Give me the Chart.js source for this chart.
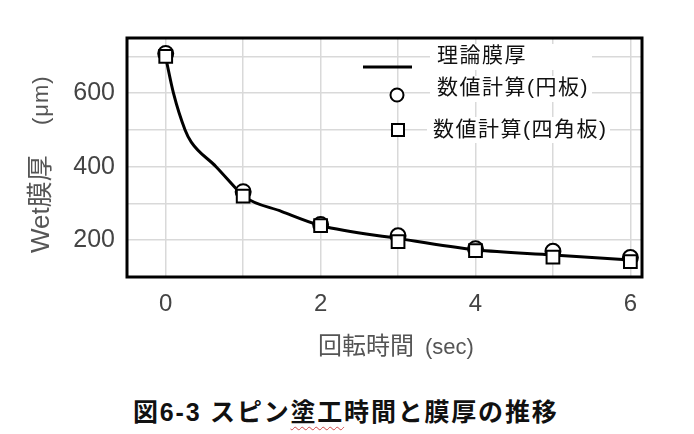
<!DOCTYPE html>
<html>
<head>
<meta charset="utf-8">
<script src="https://cdn.jsdelivr.net/npm/chart.js@4/dist/chart.umd.min.js"></script>
<style>
  body { margin: 0; background: #fff; }
  #wrap { position: relative; width: 694px; height: 434px; }
  #caption {
    position: absolute; left: 133px; top: 392px; white-space: nowrap; color: #111;
    font: bold 25px "Liberation Sans", "Noto Sans CJK JP", sans-serif; letter-spacing: 1.8px;
  }
  .typo { text-decoration: underline wavy #d04848; text-decoration-thickness: 1px; text-underline-offset: 5px; }
</style>
</head>
<body>
<div id="wrap">
  <canvas id="myChart" width="694" height="370"></canvas>
  <div id="caption">図6-3 スピン<span class="typo">塗工</span>時間と膜厚の推移</div>
</div>
<script>
// values
const theoryTime = [0, 0.1, 0.25, 0.33, 0.65, 0.91, 1, 1.5, 2, 3, 4, 5, 6];
const theoryFilm = [697, 600, 500, 467, 400, 340, 320, 278, 240, 205, 174, 160, 146];

const calcTime = [0, 1, 2, 3, 4, 5, 6];
const diskFilm = [708, 332, 243, 212, 177, 170, 153];   // 円板
const squareFilm = [700, 320, 240, 196, 172, 154, 142]; // 四角板

const xTicks = [0, 1, 2, 3, 4, 5, 6];
const xLabels = [0, 2, 4, 6];
const yTicks = [200, 300, 400, 500, 600, 700];
const yLabels = [200, 400, 600];

const legendNames = ['理論膜厚', '数値計算(円板)', '数値計算(四角板)'];

const FONT = '"Liberation Sans", "Noto Sans CJK JP", sans-serif';

const toPoints = (xs, ys) => xs.map((x, i) => ({ x: x, y: ys[i] }));

const decor = {
  id: 'decor',
  beforeDatasetsDraw(chart) {
    const { ctx, chartArea: a } = chart;
    ctx.save();
    ctx.strokeStyle = '#000';
    ctx.lineWidth = 3;
    ctx.strokeRect(a.left, a.top, a.right - a.left, a.bottom - a.top);
    ctx.restore();
  },
  afterDraw(chart) {
    const ctx = chart.ctx;
    ctx.save();

    // y axis title
    ctx.fillStyle = '#555';
    ctx.translate(42, 253);
    ctx.rotate(-Math.PI / 2);
    ctx.textBaseline = 'middle';
    ctx.textAlign = 'left';
    ctx.font = '26px ' + FONT;
    ctx.fillText('Wet膜厚', 0, 0);
    ctx.font = '22px ' + FONT;
    ctx.letterSpacing = '1px';
    ctx.fillText('(μm)', 128, 0);
    ctx.restore();
    ctx.save();

    // x axis title
    ctx.fillStyle = '#555';
    ctx.textBaseline = 'alphabetic';
    ctx.textAlign = 'left';
    ctx.font = '24px ' + FONT;
    ctx.fillText('回転時間', 318, 354);
    ctx.font = '22px ' + FONT;
    ctx.fillText('(sec)', 425, 354);

    // legend
    ctx.fillStyle = '#fff';
    ctx.fillRect(430, 44, 162, 26);
    ctx.fillRect(430, 76, 162, 26);
    ctx.fillRect(427, 117, 183, 26);

    ctx.strokeStyle = '#000';
    ctx.lineWidth = 3;
    ctx.beginPath();
    ctx.moveTo(363, 67);
    ctx.lineTo(412, 67);
    ctx.stroke();

    ctx.lineWidth = 2;
    ctx.fillStyle = '#fff';
    ctx.beginPath();
    ctx.arc(397, 95, 6.5, 0, Math.PI * 2);
    ctx.fill();
    ctx.stroke();
    ctx.fillRect(392, 124, 12, 12);
    ctx.strokeRect(392, 124, 12, 12);

    ctx.fillStyle = '#111';
    ctx.font = '21px ' + FONT;
    ctx.letterSpacing = '1.5px';
    ctx.textBaseline = 'middle';
    ctx.fillText(legendNames[0], 437, 56);
    ctx.fillText(legendNames[1], 437, 88);
    ctx.fillText(legendNames[2], 433, 130);
    ctx.restore();
  }
};

const ctx = document.getElementById('myChart').getContext('2d');
const myChart = new Chart(ctx, {
  type: 'line',
  data: {
    datasets: [
      {
        label: legendNames[0],
        data: toPoints(theoryTime, theoryFilm),
        borderColor: '#000',
        borderWidth: 3,
        pointRadius: 0,
        cubicInterpolationMode: 'monotone',
        fill: false,
        order: 3
      },
      {
        label: legendNames[1],
        data: toPoints(calcTime, diskFilm),
        showLine: false,
        pointStyle: 'circle',
        pointRadius: 7.5,
        pointBorderWidth: 2,
        pointBorderColor: '#000',
        pointBackgroundColor: '#fff',
        order: 2
      },
      {
        label: legendNames[2],
        data: toPoints(calcTime, squareFilm),
        showLine: false,
        pointStyle: 'rect',
        pointRadius: 9,
        pointBorderWidth: 2,
        pointBorderColor: '#000',
        pointBackgroundColor: '#fff',
        order: 1
      }
    ]
  },
  options: {
    responsive: false,
    animation: false,
    layout: { padding: { top: 38, right: 52, left: 0, bottom: 0 } },
    plugins: { legend: { display: false }, tooltip: { enabled: false } },
    scales: {
      x: {
        type: 'linear',
        min: -0.5,
        max: 6.15,
        afterBuildTicks: s => { s.ticks = xTicks.map(v => ({ value: v })); },
        afterFit: s => { s.height = 93; },
        grid: { color: '#d9d9d9', lineWidth: 1.5, drawTicks: false },
        border: { display: false },
        ticks: {
          autoSkip: false, maxRotation: 0, padding: 13, color: '#444',
          font: { size: 24, family: FONT },
          callback: v => xLabels.includes(v) ? v : ''
        }
      },
      y: {
        min: 100,
        max: 750,
        afterBuildTicks: s => { s.ticks = yTicks.map(v => ({ value: v })); },
        afterFit: s => { s.width = 127; },
        grid: { color: '#d9d9d9', lineWidth: 1.5, drawTicks: false },
        border: { display: false },
        ticks: {
          autoSkip: false, padding: 12, color: '#444',
          font: { size: 25, family: FONT },
          callback: v => yLabels.includes(v) ? v : ''
        }
      }
    }
  },
  plugins: [decor]
});
</script>
</body>
</html>
